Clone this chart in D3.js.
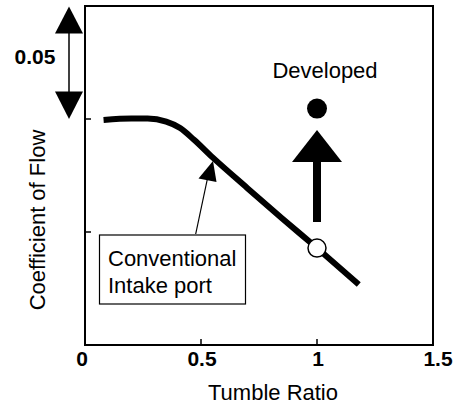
<!DOCTYPE html>
<html>
<head>
<meta charset="utf-8">
<script src="https://cdn.jsdelivr.net/npm/d3@7"></script>
<style>
  html, body { margin: 0; padding: 0; background: #fff; }
  text { font-family: "Liberation Sans", Arial, Helvetica, sans-serif; fill: #000; }
</style>
</head>
<body>
<div id="chart"></div>
<script>
// Tumble ratio vs coefficient of flow (conventional port curve + developed point)
const conventionalX = [0.08, 0.2, 0.27, 0.35, 0.41, 0.47, 0.55, 0.7, 0.85, 1.0, 1.18];
const conventionalY = [0.7996, 0.8002, 0.8002, 0.7988, 0.796, 0.7908, 0.783, 0.7694, 0.756, 0.7429, 0.7268];
const conventionalPoint = { x: 1.0, y: 0.7429 };
const developedPoint = { x: 1.0, y: 0.8046 };
const xTicks = [0, 0.5, 1, 1.5];
const xTickLabels = ["0", "0.5", "1", "1.5"];
const yTicks = [0.75, 0.8];
const scaleBar = [0.8, 0.85]; // the "0.05" span

(function draw() {
  const width = 461, height = 409;
  const margin = { top: 6, right: 28, bottom: 64, left: 85 };

  const svg = d3.select("#chart").append("svg")
    .attr("width", width).attr("height", height);

  const x = d3.scaleLinear().domain([0, 1.5]).range([margin.left, width - margin.right]);
  const y = d3.scaleLinear().domain([0.7, 0.85]).range([height - margin.bottom, margin.top]);

  // frame
  svg.append("rect")
    .attr("x", x(0)).attr("y", y(0.85))
    .attr("width", x(1.5) - x(0)).attr("height", y(0.7) - y(0.85))
    .attr("fill", "none").attr("stroke", "#000").attr("stroke-width", 2);

  // x ticks (inward)
  svg.append("g").selectAll("line").data(xTicks.slice(1, -1)).join("line")
    .attr("x1", d => x(d)).attr("x2", d => x(d))
    .attr("y1", y(0.7)).attr("y2", y(0.7) - 6)
    .attr("stroke", "#000").attr("stroke-width", 1.5);

  svg.append("g").selectAll("text").data(xTicks).join("text")
    .attr("x", (d, i) => x(d) + (i === 0 ? -3 : i === 3 ? 5 : 1))
    .attr("y", y(0.7) + 21)
    .attr("text-anchor", "middle")
    .style("font-size", "21px").style("font-weight", "bold")
    .text((d, i) => xTickLabels[i]);

  // y ticks (inward, unlabeled)
  svg.append("g").selectAll("line").data(yTicks).join("line")
    .attr("x1", x(0)).attr("x2", x(0) + 6)
    .attr("y1", d => y(d)).attr("y2", d => y(d))
    .attr("stroke", "#000").attr("stroke-width", 1.5);

  // axis titles
  svg.append("text")
    .attr("x", 273).attr("y", 400)
    .attr("text-anchor", "middle")
    .style("font-size", "22px")
    .text("Tumble Ratio");

  svg.append("text")
    .attr("transform", "translate(45,220) rotate(-90)")
    .attr("text-anchor", "middle")
    .style("font-size", "22px")
    .text("Coefficient of Flow");

  // 0.05 scale bar (double arrow)
  const bx = 69;
  const yTop = y(scaleBar[1]), yBot = y(scaleBar[0]);
  svg.append("line")
    .attr("x1", bx).attr("x2", bx).attr("y1", yTop + 20).attr("y2", yBot - 20)
    .attr("stroke", "#000").attr("stroke-width", 1.5);
  svg.append("path")
    .attr("d", `M${bx},${yTop + 0.5}L${bx - 14},${yTop + 27.5}L${bx + 14},${yTop + 27.5}Z`)
    .attr("fill", "#000");
  svg.append("path")
    .attr("d", `M${bx},${yBot}L${bx - 14},${yBot - 27.5}L${bx + 14},${yBot - 27.5}Z`)
    .attr("fill", "#000");
  svg.append("text")
    .attr("x", 35).attr("y", 64)
    .attr("text-anchor", "middle")
    .style("font-size", "21px").style("font-weight", "bold")
    .text("0.05");

  // conventional curve
  const line = d3.line()
    .x((d, i) => x(conventionalX[i]))
    .y(d => y(d))
    .curve(d3.curveMonotoneX);
  svg.append("path")
    .datum(conventionalY)
    .attr("d", line)
    .attr("fill", "none").attr("stroke", "#000").attr("stroke-width", 6)
    .attr("stroke-linejoin", "round");

  svg.append("circle")
    .attr("cx", x(conventionalPoint.x)).attr("cy", y(conventionalPoint.y)).attr("r", 9)
    .attr("fill", "#fff").attr("stroke", "#000").attr("stroke-width", 1.5);

  // developed point + up arrow
  const dx = x(developedPoint.x);
  svg.append("circle")
    .attr("cx", dx).attr("cy", y(developedPoint.y)).attr("r", 10)
    .attr("fill", "#000");
  svg.append("rect")
    .attr("x", dx - 4).attr("y", 158).attr("width", 8).attr("height", 64)
    .attr("fill", "#000");
  svg.append("path")
    .attr("d", `M${dx},130L${dx - 25},162L${dx + 25},162Z`)
    .attr("fill", "#000");
  svg.append("text")
    .attr("x", dx + 8).attr("y", 78)
    .attr("text-anchor", "middle")
    .style("font-size", "22px")
    .text("Developed");

  // callout for conventional port
  svg.append("line")
    .attr("x1", 195.7).attr("y1", 234).attr("x2", 208).attr("y2", 176)
    .attr("stroke", "#000").attr("stroke-width", 1.2);
  svg.append("path")
    .attr("d", "M213,161L198.5,178.5L216.5,182Z")
    .attr("fill", "#000");
  svg.append("rect")
    .attr("x", 99.5).attr("y", 235).attr("width", 146).attr("height", 69)
    .attr("fill", "#fff").attr("stroke", "#000").attr("stroke-width", 1.2);
  svg.append("text")
    .attr("x", 108).attr("y", 266)
    .style("font-size", "22px")
    .text("Conventional");
  svg.append("text")
    .attr("x", 108).attr("y", 293)
    .style("font-size", "22px")
    .text("Intake port");
})();
</script>
</body>
</html>
